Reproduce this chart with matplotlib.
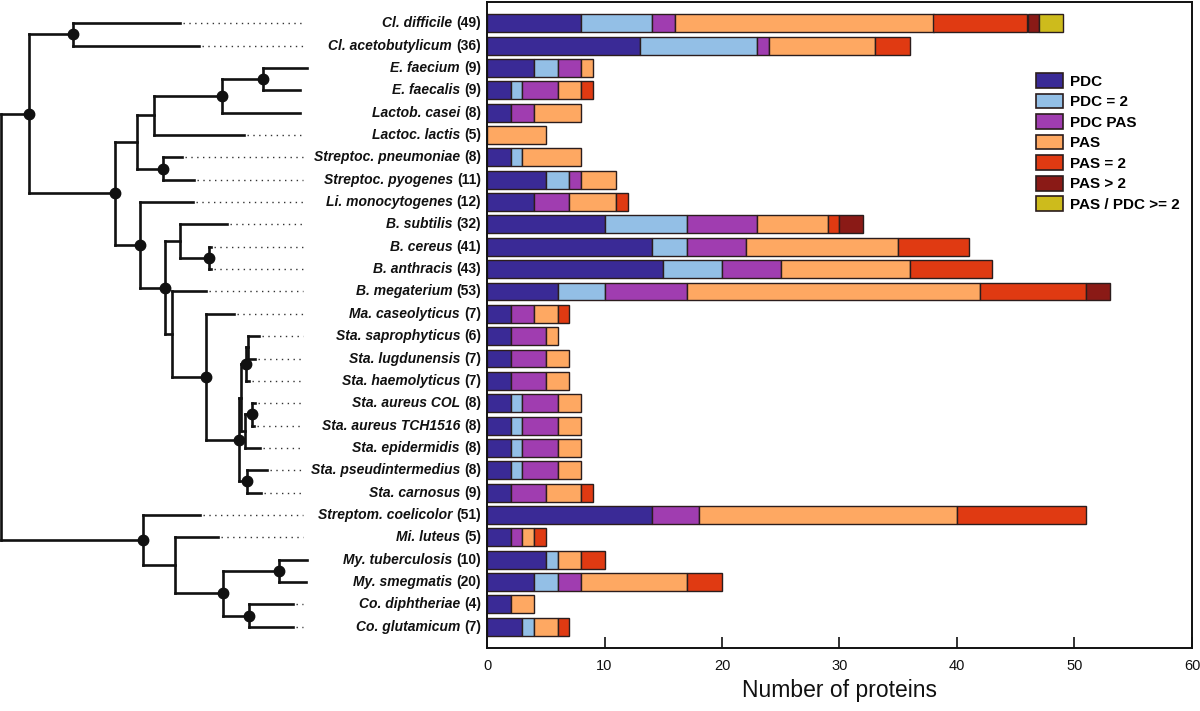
import matplotlib
matplotlib.use("Agg")
import numpy as np
import matplotlib.pyplot as plt
from matplotlib import font_manager
from matplotlib.patches import Patch

# --- 数据 ---

# 物种名称（从上到下）及括号里的蛋白数量
species = ["Cl. difficile", "Cl. acetobutylicum", "E. faecium", "E. faecalis",
           "Lactob. casei", "Lactoc. lactis", "Streptoc. pneumoniae", "Streptoc. pyogenes",
           "Li. monocytogenes", "B. subtilis", "B. cereus", "B. anthracis", "B. megaterium",
           "Ma. caseolyticus", "Sta. saprophyticus", "Sta. lugdunensis", "Sta. haemolyticus",
           "Sta. aureus COL", "Sta. aureus TCH1516", "Sta. epidermidis",
           "Sta. pseudintermedius", "Sta. carnosus", "Streptom. coelicolor", "Mi. luteus",
           "My. tuberculosis", "My. smegmatis", "Co. diphtheriae", "Co. glutamicum"]
counts = [49, 36, 9, 9, 8, 5, 8, 11, 12, 32, 41, 43, 53, 7, 6, 7, 7, 8, 8, 8, 8, 9,
          51, 5, 10, 20, 4, 7]

# 每个类别的堆叠数值
pdc = [8, 13, 4, 2, 2, 0, 2, 5, 4, 10, 14, 15, 6, 2, 2, 2, 2, 2, 2, 2, 2, 2, 14, 2, 5, 4, 2, 3]
pdc_2 = [6, 10, 2, 1, 0, 0, 1, 2, 0, 7, 3, 5, 4, 0, 0, 0, 0, 1, 1, 1, 1, 0, 0, 0, 1, 2, 0, 1]
pdc_pas = [2, 1, 2, 3, 2, 0, 0, 1, 3, 6, 5, 5, 7, 2, 3, 3, 3, 3, 3, 3, 3, 3, 4, 1, 0, 2, 0, 0]
pas = [22, 9, 1, 2, 4, 5, 5, 3, 4, 6, 13, 11, 25, 2, 1, 2, 2, 2, 2, 2, 2, 3, 22, 1, 2, 9, 2, 2]
pas_2 = [8, 3, 0, 1, 0, 0, 0, 0, 1, 1, 6, 7, 9, 1, 0, 0, 0, 0, 0, 0, 0, 1, 11, 1, 2, 3, 0, 1]
pas_gt2 = [1, 0, 0, 0, 0, 0, 0, 0, 0, 2, 0, 0, 2, 0, 0, 0, 0, 0, 0, 0, 0, 0, 0, 0, 0, 0, 0, 0]
pas_pdc = [2, 0, 0, 0, 0, 0, 0, 0, 0, 0, 0, 0, 0, 0, 0, 0, 0, 0, 0, 0, 0, 0, 0, 0, 0, 0, 0, 0]

categories = ["PDC", "PDC = 2", "PDC PAS", "PAS", "PAS = 2", "PAS > 2", "PAS / PDC >= 2"]
colors = ["#3a2a96", "#93bfe6", "#a03db0", "#fea862", "#e03a12", "#8a1a16", "#cdbb1c"]

x_ticks = [0, 10, 20, 30, 40, 50, 60]

# 系统发育树：内部节点 (深度, [子节点], 是否画圆点)，叶子 (深度, 物种序号)
tree = (1, [
    (29, [
        (73, [(180, 0), (199, 1)], True),
        (115, [
            (137, [
                (154, [
                    (222, [
                        (263, [(307, 2), (300, 3)], True),
                        (300, 4)], True),
                    (244, 5)], False),
                (163, [(182, 6), (194, 7)], True)], False),
            (140, [
                (193, 8),
                (165, [
                    (180, [(227, 9), (209, [(211, 10), (211, 11)], True)], False),
                    (172, [
                        (206, 12),
                        (206, [
                            (234, 13),
                            (239, [
                                (241, [
                                    (246, [(248, [(259, 14), (255, 15)], False), (249, 16)], True),
                                    (245, [(252, [(255, 17), (254, 18)], True), (260, 19)], False)],
                                 False),
                                (247, [(267, 20), (261, 21)], True)], True)], True)], False)],
                 True)], True)], True)], True),
    (143, [
        (200, 22),
        (175, [
            (218, 23),
            (223, [
                (279, [(307, 24), (306, 25)], True),
                (249, [(293, 26), (293, 27)], True)], True)], False)], True)], False)

# --- 字体 ---
font_names = {f.name for f in font_manager.fontManager.ttflist}
narrow = "Liberation Sans Narrow" in font_names
axis_family = ["Liberation Sans Narrow", "Liberation Sans"] if narrow else ["Liberation Sans"]
plt.rcParams["font.family"] = ["Liberation Sans", "DejaVu Sans"]

# --- 画布 ---
W, H = 1200, 711
fig = plt.figure(figsize=(W / 100, H / 100), dpi=100)
ax_left, ax_right = 487 / W, 1192 / W
ax_bottom, ax_top = (H - 648) / H, (H - 2) / H
ylim = (27.95, -0.95)

ax = fig.add_axes([ax_left, ax_bottom, ax_right - ax_left, ax_top - ax_bottom])
tax = fig.add_axes([0, ax_bottom, ax_left, ax_top - ax_bottom])

# --- 堆叠条形图 ---
y = np.arange(len(species))
left = np.zeros(len(species))
for vals, col in zip([pdc, pdc_2, pdc_pas, pas, pas_2, pas_gt2, pas_pdc], colors):
    vals = np.array(vals, dtype=float)
    m = vals > 0
    ax.barh(y[m], vals[m], left=left[m], height=0.8, color=col,
            edgecolor="#2b1d1d", linewidth=1.0)
    left += vals

ax.set_xlim(0, 60)
ax.set_ylim(*ylim)
ax.set_yticks([])
ax.set_xticks(x_ticks)
ax.tick_params(axis="x", direction="in", length=8, width=1.2, pad=8,
               labelsize=12.5 if narrow else 10.5, colors="#111111")
for lab in ax.get_xticklabels():
    lab.set_family(axis_family)
for sp in ax.spines.values():
    sp.set_linewidth(1.4)
    sp.set_color("#111111")
ax.set_xlabel("Number of proteins", fontsize=19 if narrow else 16.5,
              family=axis_family, color="#111111")
ax.xaxis.set_label_coords(0.5, -0.048)

# 图例
handles = [Patch(facecolor=c, edgecolor="#2b1d1d", linewidth=1.2) for c in colors]
fig.legend(handles, categories, loc="upper left",
           bbox_to_anchor=(1036 / W, 1 - 73 / H), bbox_transform=fig.transFigure,
           frameon=False, borderpad=0, borderaxespad=0,
           handlelength=1.75, handleheight=1.1, handletextpad=0.45,
           labelspacing=0.33, prop={"weight": "bold", "size": 11})

# --- 系统发育树 ---
tax.set_xlim(0, ax_left * W)
tax.set_ylim(*ylim)
tax.axis("off")

DOT_END = 303
LW = 1.9


def draw_node(node):
    depth, kids = node[0], node[1]
    if not isinstance(kids, list):
        # 叶子：画虚线连到标签
        if depth < DOT_END:
            tax.plot([depth + 3, DOT_END], [kids, kids], ls=(0, (1, 3.2)),
                     lw=1.0, color="#333333")
        return depth, kids
    ys = []
    for child in kids:
        cd, cy = draw_node(child)
        tax.plot([depth, cd], [cy, cy], color="#111111", lw=LW,
                 solid_capstyle="projecting")
        ys.append(cy)
    tax.plot([depth, depth], [ys[0], ys[-1]], color="#111111", lw=LW,
             solid_capstyle="projecting")
    yc = (ys[0] + ys[-1]) / 2
    if node[2]:
        tax.plot(depth, yc, "o", ms=7.5, color="#111111")
    return depth, yc


draw_node(tree)

# 物种标签：斜体粗体名称 + 正体粗体数量
renderer = fig.canvas.get_renderer()
for i, (name, c) in enumerate(zip(species, counts)):
    t = tax.text(481, i, f"({c})", ha="right", va="center", fontsize=10,
                 fontweight="bold", color="#111111")
    w = t.get_window_extent(renderer).width
    tax.text(481 - w - 4, i, name, ha="right", va="center", fontsize=10,
             fontweight="bold", fontstyle="italic", color="#111111")

fig.savefig("out.png", dpi=100)
